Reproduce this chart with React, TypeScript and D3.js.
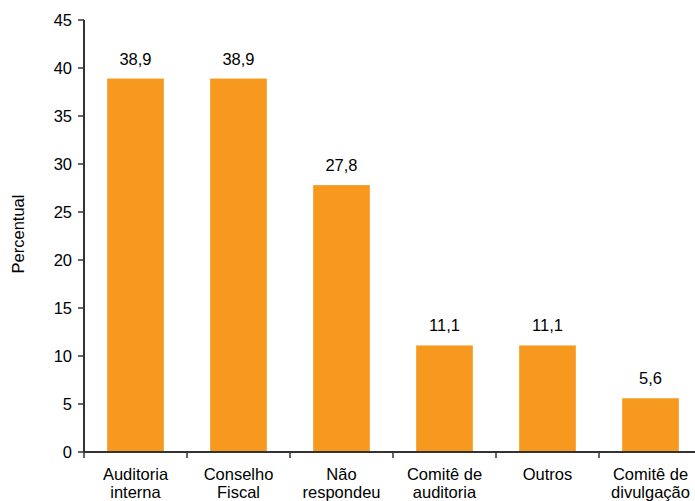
import React from "react";
import * as d3 from "d3";

const categories: string[][] = [
  ["Auditoria", "interna"],
  ["Conselho", "Fiscal"],
  ["Não", "respondeu"],
  ["Comitê de", "auditoria"],
  ["Outros"],
  ["Comitê de", "divulgação"],
];
const values: number[] = [38.9, 38.9, 27.8, 11.1, 11.1, 5.6];
const yTicks: number[] = [0, 5, 10, 15, 20, 25, 30, 35, 40, 45];

const W = 695;
const H = 501;
const left = 84;
const step = 103;
const y0 = 452;
const yTop = 20;
const font = "'Liberation Sans', Arial, sans-serif";
const barColor = "#F7991E";
const axisColor = "#333";
const fs = 16.5;

export default function App() {
  const idx = categories.map((_, i) => String(i));
  const x = d3
    .scaleBand<string>()
    .domain(idx)
    .range([left, left + step * categories.length])
    .paddingInner(0.45)
    .paddingOuter(0.225);
  const y = d3.scaleLinear().domain([0, 45]).range([y0, yTop]);
  const fmtVal = (v: number) => d3.format(".1f")(v).replace(".", ",");
  const bounds = idx.map((_, i) => left + step * i);

  return (
    <svg
      width={W}
      height={H}
      style={{ position: "absolute", left: 0, top: 0, background: "#fff" }}
      fontFamily={font}
    >
      {values.map((v, i) => (
        <rect
          key={"b" + i}
          x={x(String(i))}
          y={y(v)}
          width={x.bandwidth()}
          height={y(0) - y(v)}
          fill={barColor}
        />
      ))}
      {values.map((v, i) => (
        <text
          key={"v" + i}
          x={(x(String(i)) as number) + x.bandwidth() / 2}
          y={y(v) - 14}
          textAnchor="middle"
          fontSize={fs}
          fill="#000"
        >
          {fmtVal(v)}
        </text>
      ))}
      {/* y axis */}
      <line x1={left} x2={left} y1={y(45)} y2={y(0)} stroke={axisColor} strokeWidth={2} />
      {yTicks.map((t) => (
        <g key={"t" + t}>
          <line x1={left - 6} x2={left} y1={y(t)} y2={y(t)} stroke={axisColor} strokeWidth={1.5} />
          <text x={72} y={y(t) + 6} textAnchor="end" fontSize={fs} fill="#000">
            {t}
          </text>
        </g>
      ))}
      {/* x axis */}
      <line x1={left} x2={W} y1={y(0)} y2={y(0)} stroke={axisColor} strokeWidth={2} />
      {bounds.map((b, i) => (
        <line key={"xt" + i} x1={b} x2={b} y1={y(0)} y2={y(0) + 6} stroke={axisColor} strokeWidth={1.5} />
      ))}
      {categories.map((lines, i) => (
        <text
          key={"c" + i}
          x={(x(String(i)) as number) + x.bandwidth() / 2}
          y={480}
          textAnchor="middle"
          fontSize={fs}
          fill="#000"
        >
          {lines.map((l, j) => (
            <tspan key={j} x={(x(String(i)) as number) + x.bandwidth() / 2} dy={j === 0 ? 0 : 18}>
              {l}
            </tspan>
          ))}
        </text>
      ))}
      <text
        transform={`translate(24, 234) rotate(-90)`}
        textAnchor="middle"
        fontSize={fs}
        fill="#000"
      >
        Percentual
      </text>
    </svg>
  );
}
